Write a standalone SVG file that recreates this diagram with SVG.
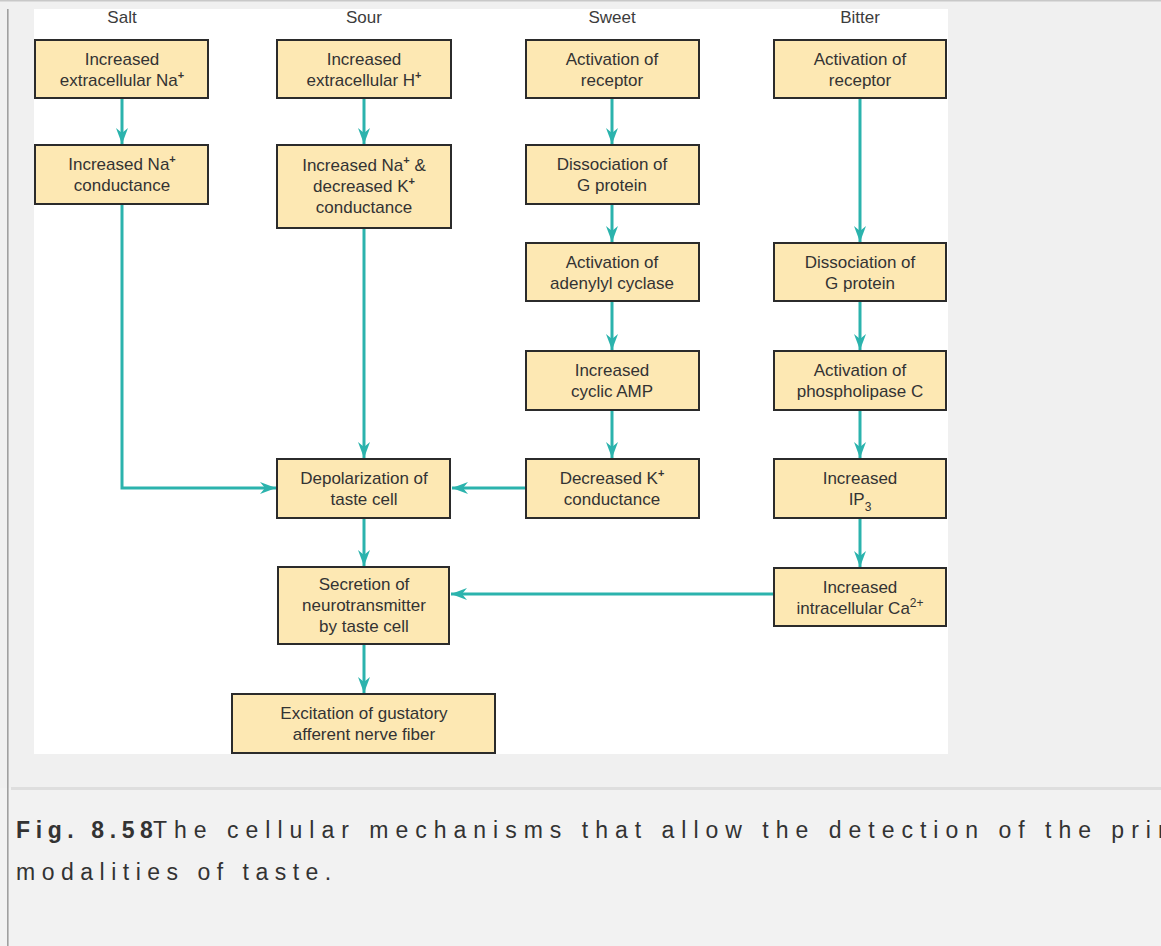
<svg xmlns="http://www.w3.org/2000/svg" width="1161" height="946" viewBox="0 0 1161 946">
<defs>
<style>
.bg{fill:#f0f0f0}
.box{fill:#fde8b3;stroke:#2b2b2b;stroke-width:2}
.t{font-family:"Liberation Sans",Arial,sans-serif;font-size:17px;fill:#333;text-anchor:middle}
.h{font-family:"Liberation Sans",Arial,sans-serif;font-size:17px;fill:#3c3c3c;text-anchor:middle}
.sup{font-size:11px;font-weight:bold}
.sup2{font-size:12px}
.c{fill:none;stroke:#2bb3ad;stroke-width:3}
.cap{font-family:"Liberation Sans",Arial,sans-serif;font-size:23px;fill:#333;letter-spacing:6.5px}
</style>
<marker id="ah" markerUnits="userSpaceOnUse" markerWidth="17" markerHeight="14" refX="16" refY="7" orient="auto">
<path d="M0,1 L16,7 L0,13 L5,7 Z" fill="#2bb3ad"/>
</marker>
</defs>
<rect class="bg" x="0" y="0" width="1161" height="946"/>
<rect x="0" y="788" width="1161" height="158" fill="#f2f2f2"/>
<rect x="0" y="0" width="1161" height="1.5" fill="#c8c8c8"/>
<rect x="7" y="9" width="1.6" height="937" fill="#a0a0a0"/>
<rect x="11" y="787" width="1150" height="3" fill="#dedede"/>
<rect x="34" y="9" width="914" height="745" fill="#ffffff"/>

<g id="headers">
<text class="h" x="122" y="23">Salt</text>
<text class="h" x="364" y="23">Sour</text>
<text class="h" x="612" y="23">Sweet</text>
<text class="h" x="860" y="23">Bitter</text>
</g>

<g id="connectors">
<line class="c" x1="122" y1="99" x2="122" y2="144" marker-end="url(#ah)"/>
<polyline class="c" points="122,205 122,488 276,488" marker-end="url(#ah)"/>
<line class="c" x1="364" y1="99" x2="364" y2="144" marker-end="url(#ah)"/>
<line class="c" x1="364" y1="229" x2="364" y2="458" marker-end="url(#ah)"/>
<line class="c" x1="364" y1="519" x2="364" y2="566" marker-end="url(#ah)"/>
<line class="c" x1="364" y1="645" x2="364" y2="693" marker-end="url(#ah)"/>
<line class="c" x1="612" y1="99" x2="612" y2="144" marker-end="url(#ah)"/>
<line class="c" x1="612" y1="205" x2="612" y2="242" marker-end="url(#ah)"/>
<line class="c" x1="612" y1="302" x2="612" y2="350" marker-end="url(#ah)"/>
<line class="c" x1="612" y1="411" x2="612" y2="458" marker-end="url(#ah)"/>
<line class="c" x1="525" y1="488" x2="452" y2="488" marker-end="url(#ah)"/>
<line class="c" x1="860" y1="99" x2="860" y2="242" marker-end="url(#ah)"/>
<line class="c" x1="860" y1="302" x2="860" y2="350" marker-end="url(#ah)"/>
<line class="c" x1="860" y1="411" x2="860" y2="458" marker-end="url(#ah)"/>
<line class="c" x1="860" y1="519" x2="860" y2="567" marker-end="url(#ah)"/>
<line class="c" x1="773" y1="594" x2="451" y2="594" marker-end="url(#ah)"/>
</g>

<g id="salt1"><rect class="box" x="35" y="40" width="173" height="58"/>
<text class="t" x="122" y="65">Increased</text>
<text class="t" x="122" y="86">extracellular Na<tspan class="sup" dy="-7">+</tspan></text></g>
<g id="salt2"><rect class="box" x="35" y="145" width="173" height="59"/>
<text class="t" x="122" y="170">Increased Na<tspan class="sup" dy="-7">+</tspan></text>
<text class="t" x="122" y="191">conductance</text></g>

<g id="sour1"><rect class="box" x="277" y="40" width="174" height="58"/>
<text class="t" x="364" y="65">Increased</text>
<text class="t" x="364" y="86">extracellular H<tspan class="sup" dy="-7">+</tspan></text></g>
<g id="sour2"><rect class="box" x="277" y="145" width="174" height="83"/>
<text class="t" x="364" y="170.5">Increased Na<tspan class="sup" dy="-7">+</tspan><tspan dy="7"> &amp;</tspan></text>
<text class="t" x="364" y="191.5">decreased K<tspan class="sup" dy="-7">+</tspan></text>
<text class="t" x="364" y="212.5">conductance</text></g>

<g id="sweet1"><rect class="box" x="526" y="40" width="173" height="58"/>
<text class="t" x="612" y="65">Activation of</text>
<text class="t" x="612" y="86">receptor</text></g>
<g id="sweet2"><rect class="box" x="526" y="145" width="173" height="59"/>
<text class="t" x="612" y="170">Dissociation of</text>
<text class="t" x="612" y="191">G protein</text></g>
<g id="sweet3"><rect class="box" x="526" y="243" width="173" height="58"/>
<text class="t" x="612" y="267.5">Activation of</text>
<text class="t" x="612" y="288.5">adenylyl cyclase</text></g>
<g id="sweet4"><rect class="box" x="526" y="351" width="173" height="59"/>
<text class="t" x="612" y="376">Increased</text>
<text class="t" x="612" y="397">cyclic AMP</text></g>
<g id="sweet5"><rect class="box" x="526" y="459" width="173" height="59"/>
<text class="t" x="612" y="484">Decreased K<tspan class="sup" dy="-7">+</tspan></text>
<text class="t" x="612" y="505">conductance</text></g>

<g id="bitter1"><rect class="box" x="774" y="40" width="172" height="58"/>
<text class="t" x="860" y="65">Activation of</text>
<text class="t" x="860" y="86">receptor</text></g>
<g id="bitter2"><rect class="box" x="774" y="243" width="172" height="58"/>
<text class="t" x="860" y="267.5">Dissociation of</text>
<text class="t" x="860" y="288.5">G protein</text></g>
<g id="bitter3"><rect class="box" x="774" y="351" width="172" height="59"/>
<text class="t" x="860" y="376">Activation of</text>
<text class="t" x="860" y="397">phospholipase C</text></g>
<g id="bitter4"><rect class="box" x="774" y="459" width="172" height="59"/>
<text class="t" x="860" y="484">Increased</text>
<text class="t" x="860" y="505">IP<tspan class="sup2" dy="6">3</tspan></text></g>
<g id="bitter5"><rect class="box" x="774" y="568" width="172" height="58"/>
<text class="t" x="860" y="592.5">Increased</text>
<text class="t" x="860" y="613.5">intracellular Ca<tspan class="sup2" dy="-7">2+</tspan></text></g>

<g id="depol"><rect class="box" x="277" y="459" width="173" height="59"/>
<text class="t" x="364" y="484">Depolarization of</text>
<text class="t" x="364" y="505">taste cell</text></g>
<g id="secretion"><rect class="box" x="278" y="567" width="171" height="77"/>
<text class="t" x="364" y="590">Secretion of</text>
<text class="t" x="364" y="611">neurotransmitter</text>
<text class="t" x="364" y="632">by taste cell</text></g>
<g id="excitation"><rect class="box" x="232" y="694" width="263" height="59"/>
<text class="t" x="364" y="718.5">Excitation of gustatory</text>
<text class="t" x="364" y="739.5">afferent nerve fiber</text></g>

<g id="caption">
<text class="cap" x="16" y="838" font-weight="bold" style="letter-spacing:5.6px">Fig. 8.58</text>
<text class="cap" x="153" y="838" style="letter-spacing:7px">The cellular mechanisms that allow the detection of the prim</text>
<text class="cap" x="16" y="880">modalities of taste.</text>
</g>
</svg>
